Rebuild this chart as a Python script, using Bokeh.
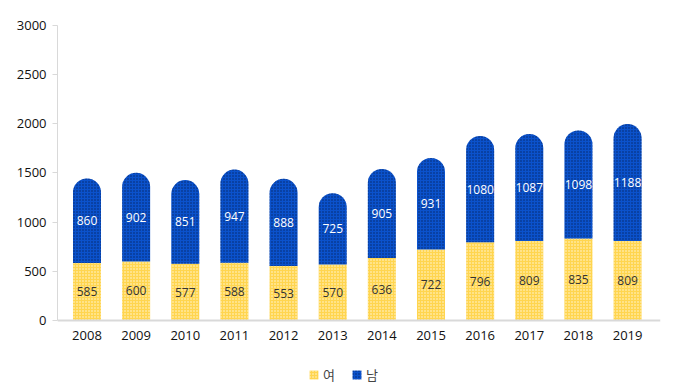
from bokeh.plotting import figure
from bokeh.models import ColumnDataSource, Legend, LegendItem, FixedTicker, Range1d, LabelSet, Span
from bokeh.core.properties import value
from bokeh.embed import file_html
from bokeh.resources import INLINE

years = ["2008", "2009", "2010", "2011", "2012", "2013", "2014", "2015", "2016", "2017", "2018", "2019"]
female = [585, 600, 577, 588, 553, 570, 636, 722, 796, 809, 835, 809]
male = [860, 902, 851, 947, 888, 725, 905, 931, 1080, 1087, 1098, 1188]
y_ticks = [0, 500, 1000, 1500, 2000, 2500, 3000]

xs = list(range(len(years)))
tot = [f + m for f, m in zip(female, male)]
src = ColumnDataSource(dict(
    x=xs, female=female, male=male, tot=tot, zero=[0] * len(years), year=years,
    fmid=[f / 2 for f in female],
    mmid=[f + m / 2 for f, m in zip(female, male)],
    flab=[str(v) for v in female], mlab=[str(v) for v in male],
))

FONT = "Open Sans"
p = figure(width=680, height=384, output_backend="svg", toolbar_location=None,
           x_range=Range1d(-0.6, 11.67), y_range=Range1d(-651, 3000),
           x_axis_location=None,
           min_border_left=57, min_border_right=20, min_border_top=25, min_border_bottom=0)
p.outline_line_color = None
p.xgrid.visible = False
p.ygrid.visible = False
p.background_fill_color = "white"

W = 0.57
yel = p.vbar(x="x", bottom=0, top="female", width=W, source=src,
             fill_color="#FFD54F", line_color=None,
             hatch_pattern="dot", hatch_color="white", hatch_scale=3, hatch_weight=1, hatch_alpha=0.8)
blu = p.vbar(x="x", bottom="female", top="tot", width=W, source=src,
             fill_color="#0B52CC", line_color=None, border_radius=(14, 14, 0, 0),
             hatch_pattern="dot", hatch_color="#06235E", hatch_scale=3, hatch_weight=1, hatch_alpha=0.9)

# x axis line at zero
p.add_layout(Span(location=0, dimension="width", line_color="#D9D9D9", line_width=2))

p.add_layout(LabelSet(x="x", y="fmid", text="flab", source=src, text_align="center",
                      text_baseline="middle", text_color="#333333", text_font=value(FONT),
                      text_font_size="12px"))
p.add_layout(LabelSet(x="x", y="mmid", text="mlab", source=src, text_align="center",
                      text_baseline="middle", text_color="white", text_font=value(FONT),
                      text_font_size="12px", text_font_style="normal"))
# year labels
p.add_layout(LabelSet(x="x", y="zero", text="year", source=src, text_align="center",
                      text_baseline="middle", text_color="#111111", text_font=value(FONT),
                      text_font_size="13px", y_offset=-15))

p.yaxis.ticker = FixedTicker(ticks=y_ticks)
p.yaxis.bounds = (0, 3000)
p.yaxis.axis_line_color = "#D9D9D9"
p.yaxis.major_tick_line_color = "#D9D9D9"
p.yaxis.major_tick_out = 5
p.yaxis.major_tick_in = 0
p.yaxis.minor_tick_line_color = None
p.yaxis.major_label_text_font = FONT
p.yaxis.major_label_text_font_size = "13px"
p.yaxis.major_label_text_color = "#111111"
p.yaxis.major_label_standoff = 6

legend = Legend(items=[LegendItem(label="여", renderers=[yel]), LegendItem(label="남", renderers=[blu])],
                orientation="horizontal", location=(251, 0),
                label_text_font="Noto Sans CJK KR", label_text_font_size="13px",
                glyph_width=11, glyph_height=11, spacing=8, padding=2, margin=0,
                label_standoff=4, border_line_color=None, background_fill_alpha=0)
p.add_layout(legend, "center")

open("out.html", "w").write(file_html(p, INLINE))
